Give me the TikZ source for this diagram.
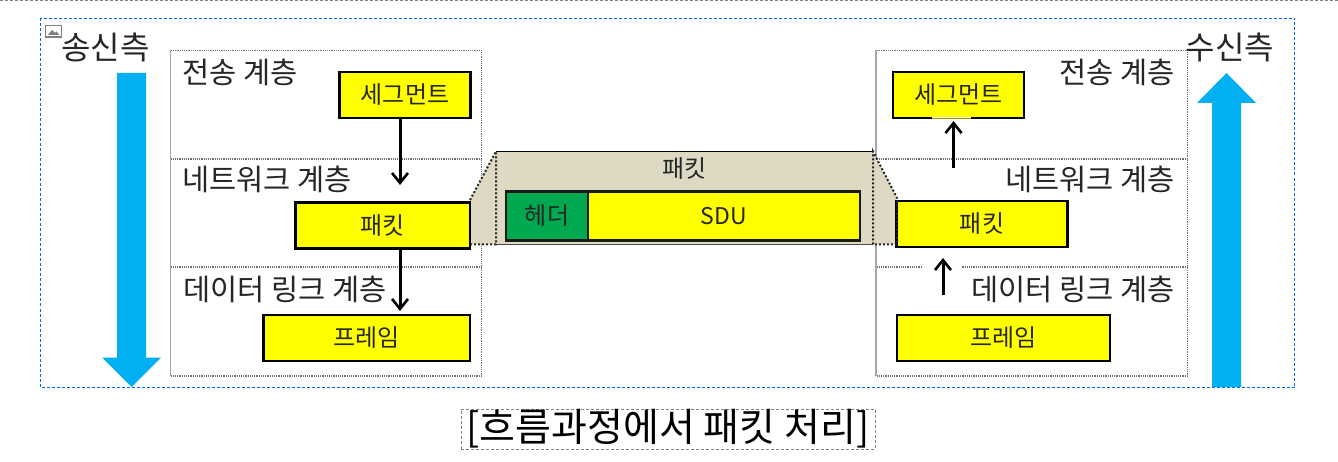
\documentclass[tikz,border=0pt]{standalone}
\usepackage{fontspec}
\setmainfont{Noto Sans CJK KR}[Scale=1]
\usetikzlibrary{arrows.meta}
\definecolor{boxyellow}{HTML}{FFFF00}
\definecolor{flowblue}{HTML}{00B0F0}
\definecolor{pkttan}{HTML}{DDD9C3}
\definecolor{hdrgreen}{HTML}{00A850}
\definecolor{framegray}{HTML}{707070}
\definecolor{labelgray}{HTML}{262626}
\newcommand{\lowered}[1]{\raisebox{-1.6pt}{#1}}
\tikzset{
  x=1pt,y=-1pt,
  unitbox/.style={draw=black,line width=2.4pt,fill=boxyellow,minimum height=46pt,inner sep=0pt,font=\fontsize{24}{28}\selectfont,text=labelgray},
  layerframe/.style={draw=framegray,line width=1.2pt,densely dotted},
  layertext/.style={font=\fontsize{29.5}{34}\selectfont,text=labelgray,inner sep=0pt},
  flow/.style={-{Straight Barb[length=10pt,width=16pt,line width=2.6pt]},line width=3pt,black},
  bigarrow/.style={fill=flowblue,draw=none},
  sidetext/.style={font=\fontsize{32}{38}\selectfont,text=labelgray,inner sep=0pt},
  trap/.style={fill=pkttan,draw=none},
  trapedge/.style={draw=black!85,line width=2pt,dotted},
  pktpart/.style={draw=black!90,line width=2.2pt,minimum height=49pt,inner sep=0pt,font=\fontsize{24}{28}\selectfont,text=labelgray},
}
\begin{document}
\begin{tikzpicture}
\useasboundingbox (0,0) rectangle (1338,462);
% page rule and outer frame
\draw[gray,line width=1.2pt,densely dashed] (0,0.5) -- (1338,0.5);
\draw[blue!60!cyan,line width=1.2pt,densely dashed] (40.5,18.5) rectangle (1294.5,387.5);
% image placeholder icon
\draw[gray,line width=1.3pt,fill=white] (45.5,25.5) rectangle (61.5,37);
\fill[gray] (48,35) -- (52,30) -- (55,33) -- (56.5,31.5) -- (59.5,35) -- cycle;
% layer frames
\draw[layerframe] (170.5,50.5) rectangle (481.5,376);
\draw[layerframe] (170.5,159) -- (481.5,159);
\draw[layerframe] (170.5,267) -- (481.5,267);
\draw[layerframe] (876.5,50.5) rectangle (1187.5,376);
\draw[layerframe] (876.5,159) -- (1187.5,159);
\draw[layerframe] (876.5,267) -- (1187.5,267);
\draw[draw=black!35,line width=1.5pt] (876,50.5) -- (876,376);
\draw[draw=black!35,line width=1.5pt] (170.5,50.5) -- (170.5,376);
% packet blow-up
\fill[trap] (470,200) -- (496,151.5) -- (496,244) -- (470,244) -- cycle;
\fill[trap] (873,151.5) -- (897,198) -- (897,244) -- (873,244) -- cycle;
\node[fill=pkttan,minimum width=377pt,minimum height=92.5pt,inner sep=0pt] (pkt) at (684.5,198) {};
\draw[black,line width=1.5pt] (pkt.north west) -- (pkt.north east);
\draw[black!70,line width=1.2pt] (pkt.south west) -- (pkt.south east);
\node[font=\fontsize{24}{28}\selectfont,text=labelgray,inner sep=0pt] (pktlabel) at (684.5,169) {패킷};
\node[pktpart,fill=hdrgreen,minimum width=82.5pt] (hdr) at (547,216) {헤더};
\node[pktpart,fill=boxyellow,minimum width=272pt,font=\fontsize{23}{28}\selectfont] (sdu) at (724,216) {\lowered{SDU}};
% left units
\node[unitbox,minimum width=131pt] (segL) at (405,95) {\lowered{세그먼트}};
\node[unitbox,minimum width=174.5pt] (pktL) at (382.75,225.5) {\lowered{패킷}};
\node[unitbox,minimum width=206.5pt] (frmL) at (366.75,338) {\lowered{프레임}};
\coordinate (a1e) at (400,185);
\coordinate (a2e) at (400,311);
\draw[flow] (segL.south -| a1e) -- (a1e);
\draw[flow] (pktL.south -| a2e) -- (a2e);
% right units
\node[unitbox,minimum width=131pt] (segR) at (958.5,95) {\lowered{세그먼트}};
\node[unitbox,minimum width=171pt] (pktR) at (982,224) {\lowered{패킷}};
\node[unitbox,minimum width=213pt] (frmR) at (1003.5,338) {\lowered{프레임}};
\fill[white] (932,117) rectangle (971,131);
\fill[white] (922,261) rectangle (962,272);
\draw[draw=boxyellow!60!black,line width=0.8pt] (932,118) -- (971,118);
\coordinate (b1s) at (953.5,168);
\coordinate (b1e) at (953.5,121);
\coordinate (b2s) at (943,295);
\coordinate (b2e) at (943,258);
\draw[flow] (b1s) -- (b1e);
\draw[flow] (b2s) -- (b2e);
% dotted blow-up edges
\draw[trapedge] (470,200) -- (496,151.5) -- (496,244.5) -- (470,244.5);
\draw[trapedge] (873,244.5) -- (873,151.5) -- (897,198) -- (897,244.5) -- cycle;
% layer labels
\node[layertext,anchor=west] (l1) at (182,72) {전송 계층};
\node[layertext,anchor=west] (l2) at (182,179) {네트워크 계층};
\node[layertext,anchor=west] (l3) at (183,289) {데이터 링크 계층};
\node[layertext,anchor=east] (r1) at (1175,72) {전송 계층};
\node[layertext,anchor=east] (r2) at (1175,179) {네트워크 계층};
\node[layertext,anchor=east] (r3) at (1175,289) {데이터 링크 계층};
% side arrows
\fill[bigarrow] (117,73) -- (146,73) -- (146,357.5) -- (161,357.5) -- (131.5,387) -- (102,357.5) -- (117,357.5) -- cycle;
\fill[bigarrow] (1212,387) -- (1241,387) -- (1241,103) -- (1256,103) -- (1226.5,73) -- (1197,103) -- (1212,103) -- cycle;
\node[sidetext] (send) at (105.5,47) {송신측};
\node[sidetext] (recv) at (1230,47) {수신측};
% caption
\node[draw=gray,line width=1pt,densely dashed,minimum width=414pt,minimum height=40pt,inner sep=0pt,font=\fontsize{39}{44}\selectfont,text=black] (cap) at (668,429) {[흐름과정에서 패킷 처리]};
\end{tikzpicture}
\end{document}
